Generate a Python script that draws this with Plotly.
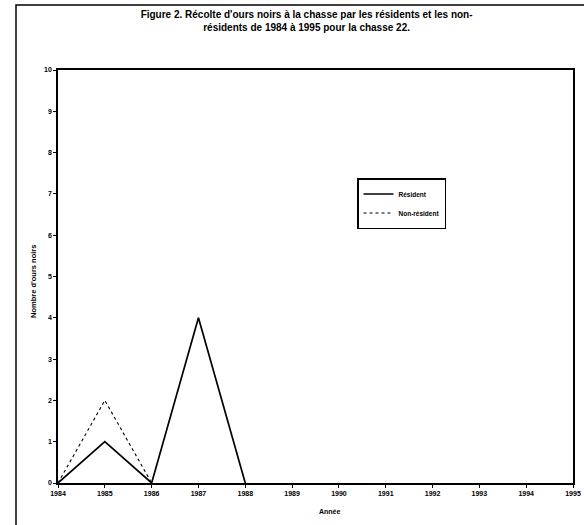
import plotly.graph_objects as go

years = [1984, 1985, 1986, 1987, 1988, 1989, 1990, 1991, 1992, 1993, 1994, 1995]
resident = [0, 1, 0, 4, 0, None, None, None, None, None, None, None]
non_resident = [0, 2, 0, None, None, None, None, None, None, None, None, None]
y_ticks = [0, 1, 2, 3, 4, 5, 6, 7, 8, 9, 10]

fig = go.Figure()
fig.add_trace(go.Scatter(x=years, y=resident, mode="lines", name="<b>Résident</b>",
                         line=dict(color="black", width=1.7), connectgaps=False))
fig.add_trace(go.Scatter(x=years, y=non_resident, mode="lines", name="<b>Non-résident</b>",
                         line=dict(color="black", width=1.1, dash="dot"), connectgaps=False))

font = "Liberation Sans, Arial, sans-serif"
L, R, T, B = 58, 11, 70, 42
pw = 584 - L - R
ph = 525 - T - B
fig.update_layout(
    template="none",
    width=584, height=525,
    margin=dict(l=L, r=R, t=T, b=B),
    paper_bgcolor="white", plot_bgcolor="white",
    font=dict(family=font, color="black"),
    title=dict(text="<b>Figure 2. Récolte d'ours noirs à la chasse par les résidents et les non-<br>résidents de 1984 à 1995 pour la chasse 22.</b>",
               x=0.525, xanchor="center", y=0.965, yanchor="top",
               font=dict(size=10, family=font)),
    showlegend=True,
    legend=dict(x=(357 - L) / pw, y=1 - (178 - T) / ph, xanchor="left", yanchor="top",
                bordercolor="black", borderwidth=1.5, bgcolor="white",
                font=dict(size=6.5, family=font), tracegroupgap=6, itemwidth=30),
    xaxis=dict(range=[1984, 1995], tickmode="array", tickvals=years,
               ticktext=[f"<b>{y}</b>" for y in years], automargin=False,
               showgrid=False, zeroline=False, showline=True, linecolor="black", linewidth=1.5,
               mirror=True,
               ticks="outside", ticklen=3, tickcolor="black", tickfont=dict(size=7)),
    yaxis=dict(range=[0, 10], tickmode="array", tickvals=y_ticks,
               ticktext=[f"<b>{v}</b>" for v in y_ticks], automargin=False,
               showgrid=False, zeroline=False, showline=True, linecolor="black", linewidth=1.5,
               mirror=True,
               ticks="outside", ticklen=3, tickcolor="black", tickfont=dict(size=7)),
    annotations=[
        dict(text="<b>Année</b>", xref="paper", yref="paper",
             x=(330 - L) / pw, y=-(511 - (525 - B)) / ph, xanchor="center", yanchor="middle",
             showarrow=False, font=dict(size=7, family=font)),
        dict(text="<b>Nombre d'ours noirs</b>", xref="paper", yref="paper",
             x=(33 - L) / pw, y=1 - (282 - T) / ph, xanchor="center", yanchor="middle",
             textangle=-90, showarrow=False, font=dict(size=7.5, family=font)),
    ],
    shapes=[dict(type="rect", xref="paper", yref="paper",
                 x0=(16 - L) / pw, x1=(590 - L) / pw, y0=-(530 - (525 - B)) / ph, y1=1 + (T - 5) / ph,
                 line=dict(color="black", width=1.5))],
)
fig.write_html("out.html", config={"displayModeBar": False},
               post_script="document.body.style.margin='0';document.body.style.overflow='hidden';")
